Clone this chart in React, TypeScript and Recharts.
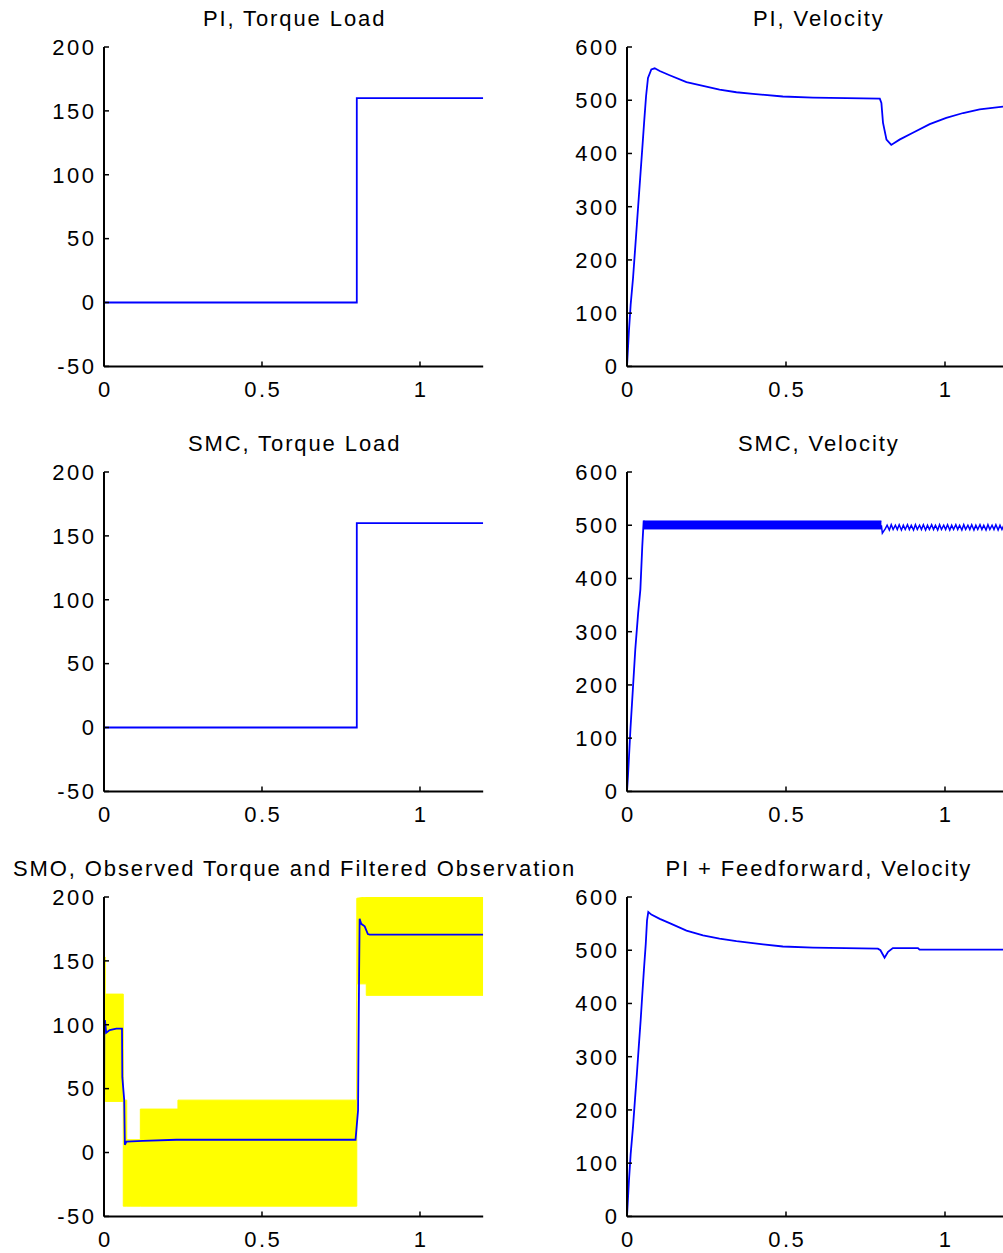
import React from 'react';
import { ComposedChart, Line, Area, XAxis, YAxis } from 'recharts';

const FONT = '"Liberation Sans", Arial, Helvetica, sans-serif';
const BLUE = '#0000ff';
const YELLOW = '#ffff00';

// shared ticks
const xTicks = [0, 0.5, 1];
const torqueTicks = [-50, 0, 50, 100, 150, 200];
const velocityTicks = [0, 100, 200, 300, 400, 500, 600];

// torque load step (PI and SMC runs use the same load)
const loadT = [0, 0.8, 0.8, 1.2];
const loadV = [0, 0, 160, 160];

// PI, velocity
const piVelT = [0, 0.006, 0.0115, 0.019, 0.025, 0.031, 0.037, 0.043, 0.049, 0.0545, 0.06, 0.066, 0.0765, 0.087, 0.103, 0.134, 0.187, 0.239, 0.291, 0.344, 0.396, 0.49, 0.585, 0.795, 0.8, 0.805, 0.816, 0.831, 0.857, 0.899, 0.952, 1.004, 1.057, 1.109, 1.2];
const piVelV = [0, 66, 116, 166, 216, 266, 317, 367, 417, 464, 508, 542, 558, 560, 555, 547, 534, 527, 520, 515, 512, 507, 505, 503, 495, 458, 426, 416, 426, 439, 455, 467, 476, 483, 489];

// SMC, velocity: rise, chattering band, then smaller zigzag after the load step
const smcRiseT = [0, 0.003, 0.011, 0.019, 0.026, 0.035, 0.042, 0.048, 0.0525];
const smcRiseV = [0, 28, 119, 197, 266, 335, 379, 460, 509];
const smcBandT = [0.052, 0.8];
const smcBandLow = [493, 493];
const smcBandHigh = [508, 508];
const smcTailT = [0.8, 0.803, 0.812, 0.818, 0.825, 0.831, 0.837, 0.844, 0.85, 0.856, 0.863, 0.869, 0.875, 0.882, 0.888, 0.894, 0.901, 0.907, 0.913, 0.92, 0.926, 0.932, 0.939, 0.945, 0.951, 0.958, 0.964, 0.97, 0.977, 0.983, 0.989, 0.996, 1.002, 1.008, 1.015, 1.021, 1.027, 1.034, 1.04, 1.046, 1.053, 1.059, 1.065, 1.072, 1.078, 1.084, 1.091, 1.097, 1.103, 1.11, 1.116, 1.122, 1.129, 1.135, 1.141, 1.148, 1.154, 1.16, 1.167, 1.173, 1.179, 1.186, 1.192, 1.198];
const smcTailV = [500, 485, 493, 500, 491, 501, 492, 500, 492, 501, 491, 500, 492, 501, 492, 500, 491, 501, 492, 500, 492, 501, 491, 500, 492, 501, 492, 500, 491, 501, 492, 500, 492, 501, 491, 500, 492, 501, 492, 500, 491, 501, 492, 500, 492, 501, 491, 500, 492, 501, 492, 500, 491, 501, 492, 500, 492, 501, 491, 500, 492, 501, 492, 500];

// SMO observed torque (yellow envelope) and filtered observation (blue)
const smoRawT = [0, 0.004, 0.004, 0.061, 0.061, 0.072, 0.072, 0.115, 0.115, 0.234, 0.234, 0.8, 0.8, 0.83, 0.83, 1.2];
const smoRawLow = [40, 40, 40, 40, -42, -42, -42, -42, -42, -42, -42, -42, 132, 132, 123, 123];
const smoRawHigh = [153, 153, 124, 124, 41, 41, 10, 10, 34, 34, 41, 41, 199, 200, 200, 200];
const smoFiltT = [0, 0.001, 0.003, 0.007, 0.018, 0.039, 0.057, 0.058, 0.064, 0.066, 0.071, 0.123, 0.229, 0.796, 0.804, 0.807, 0.809, 0.814, 0.825, 0.835, 0.841, 1.2];
const smoFiltV = [0, 98, 103.6, 93.7, 95.8, 96.9, 97, 59, 41, 6, 8.6, 9.1, 10, 10, 33, 132, 183, 179, 177, 171, 170.6, 170.6];

// PI + feedforward, velocity
const ffVelT = [0, 0.006, 0.0115, 0.019, 0.025, 0.031, 0.037, 0.043, 0.048, 0.0535, 0.059, 0.063, 0.067, 0.0765, 0.103, 0.134, 0.187, 0.239, 0.291, 0.344, 0.428, 0.49, 0.585, 0.789, 0.797, 0.81, 0.821, 0.836, 0.915, 0.92, 1.2];
const ffVelV = [0, 66, 117, 169, 219, 267, 319, 369, 416, 466, 512, 556, 572, 567, 559, 551, 537, 528, 522, 517, 511, 507, 505, 503, 500, 486, 497, 504, 504, 501, 501];

const pts = (ts: number[], vs: number[]) => ts.map((t, i) => ({ t, v: vs[i] }));
const band = (ts: number[], lo: number[], hi: number[]) => ts.map((t, i) => ({ t, r: [lo[i], hi[i]] }));

const PLOT_H = 319.4;
const PAD_T = 40;
const PAD_B = 45;
const FS = 22;
const TICK_LS = 2.5;

const tickStyle = { fill: '#000', fontSize: FS, fontFamily: FONT, letterSpacing: TICK_LS };
const xTickStyle = { ...tickStyle, dx: TICK_LS / 2 };
const axisLine = { stroke: '#000', strokeWidth: 2 };
const tickLine = { stroke: '#000', strokeWidth: 1.5 };

interface SubplotProps {
    title: string;
    left: number;
    top: number;
    plotW: number;
    padL: number;
    padR: number;
    yDomain: [number, number];
    yTicks: number[];
    children: React.ReactNode;
}

function Subplot({ title, left, top, plotW, padL, padR, yDomain, yTicks, children }: SubplotProps) {
    const w = padL + plotW + padR;
    return (
        <div style={{ position: 'absolute', left: left - padL, top: top - PAD_T, width: w }}>
            <svg width={w} height={PAD_T} style={{ position: 'absolute', left: 0, top: 0, overflow: 'visible' }}>
                <text
                    x={padL + plotW / 2 + 1}
                    y={PAD_T - 21}
                    textAnchor="middle"
                    fill="#000"
                    fontSize={FS}
                    fontFamily={FONT}
                    letterSpacing={1.9}
                >
                    {title}
                </text>
            </svg>
            <ComposedChart
                width={w}
                height={PAD_T + PLOT_H + PAD_B}
                margin={{ top: PAD_T, right: padR, bottom: 0, left: 0 }}
            >
                <XAxis
                    dataKey="t"
                    type="number"
                    domain={[0, 1.2]}
                    ticks={xTicks}
                    interval={0}
                    allowDataOverflow
                    height={PAD_B}
                    tickSize={-5}
                    tickMargin={20}
                    axisLine={axisLine}
                    tickLine={tickLine}
                    tick={xTickStyle}
                />
                <XAxis
                    xAxisId="top"
                    orientation="top"
                    dataKey="t"
                    type="number"
                    domain={[0, 1.2]}
                    ticks={xTicks}
                    interval={0}
                    allowDataOverflow
                    height={0}
                    tickSize={-5}
                    axisLine={axisLine}
                    tickLine={tickLine}
                    tick={false}
                />
                <YAxis
                    type="number"
                    domain={yDomain}
                    ticks={yTicks}
                    interval={0}
                    allowDataOverflow
                    width={padL}
                    tickSize={-5}
                    tickMargin={12.5}
                    axisLine={axisLine}
                    tickLine={tickLine}
                    tick={tickStyle}
                />
                <YAxis
                    yAxisId="right"
                    orientation="right"
                    type="number"
                    domain={yDomain}
                    ticks={yTicks}
                    interval={0}
                    allowDataOverflow
                    width={0}
                    tickSize={-5}
                    axisLine={axisLine}
                    tickLine={tickLine}
                    tick={false}
                />
                {children}
            </ComposedChart>
        </div>
    );
}

const LEFT_X = 104.3;
const RIGHT_X = 627.3;
const LEFT_W = 379.2;
const RIGHT_W = 381.6;
const ROWS = [47.3, 472.0, 896.7];
const LW = 1.8;

export default function App() {
    return (
        <div
            style={{
                position: 'absolute',
                left: 0,
                top: 0,
                width: 1003,
                height: 1253,
                overflow: 'hidden',
                background: '#fff',
            }}
        >
            <Subplot title="PI, Torque Load" left={LEFT_X} top={ROWS[0]} plotW={LEFT_W} padL={104} padR={100} yDomain={[-50, 200]} yTicks={torqueTicks}>
                <Line data={pts(loadT, loadV)} dataKey="v" type="linear" stroke={BLUE} strokeWidth={LW} dot={false} isAnimationActive={false} />
            </Subplot>
            <Subplot title="PI, Velocity" left={RIGHT_X} top={ROWS[0]} plotW={RIGHT_W} padL={60} padR={20} yDomain={[0, 600]} yTicks={velocityTicks}>
                <Line data={pts(piVelT, piVelV)} dataKey="v" type="linear" stroke={BLUE} strokeWidth={LW} dot={false} isAnimationActive={false} />
            </Subplot>

            <Subplot title="SMC, Torque Load" left={LEFT_X} top={ROWS[1]} plotW={LEFT_W} padL={104} padR={100} yDomain={[-50, 200]} yTicks={torqueTicks}>
                <Line data={pts(loadT, loadV)} dataKey="v" type="linear" stroke={BLUE} strokeWidth={LW} dot={false} isAnimationActive={false} />
            </Subplot>
            <Subplot title="SMC, Velocity" left={RIGHT_X} top={ROWS[1]} plotW={RIGHT_W} padL={60} padR={20} yDomain={[0, 600]} yTicks={velocityTicks}>
                <Area data={band(smcBandT, smcBandLow, smcBandHigh)} dataKey="r" type="linear" stroke={BLUE} strokeWidth={1} fill={BLUE} fillOpacity={1} dot={false} activeDot={false} isAnimationActive={false} />
                <Line data={pts(smcRiseT, smcRiseV)} dataKey="v" type="linear" stroke={BLUE} strokeWidth={LW} dot={false} isAnimationActive={false} />
                <Line data={pts(smcTailT, smcTailV)} dataKey="v" type="linear" stroke={BLUE} strokeWidth={1.5} dot={false} isAnimationActive={false} />
            </Subplot>

            <Subplot title="SMO, Observed Torque and Filtered Observation" left={LEFT_X} top={ROWS[2]} plotW={LEFT_W} padL={104} padR={100} yDomain={[-50, 200]} yTicks={torqueTicks}>
                <Area data={band(smoRawT, smoRawLow, smoRawHigh)} dataKey="r" type="linear" stroke={YELLOW} strokeWidth={1} fill={YELLOW} fillOpacity={1} dot={false} activeDot={false} isAnimationActive={false} />
                <Line data={pts(smoFiltT, smoFiltV)} dataKey="v" type="linear" stroke={BLUE} strokeWidth={LW} dot={false} isAnimationActive={false} />
            </Subplot>
            <Subplot title="PI + Feedforward, Velocity" left={RIGHT_X} top={ROWS[2]} plotW={RIGHT_W} padL={60} padR={20} yDomain={[0, 600]} yTicks={velocityTicks}>
                <Line data={pts(ffVelT, ffVelV)} dataKey="v" type="linear" stroke={BLUE} strokeWidth={LW} dot={false} isAnimationActive={false} />
            </Subplot>
        </div>
    );
}
